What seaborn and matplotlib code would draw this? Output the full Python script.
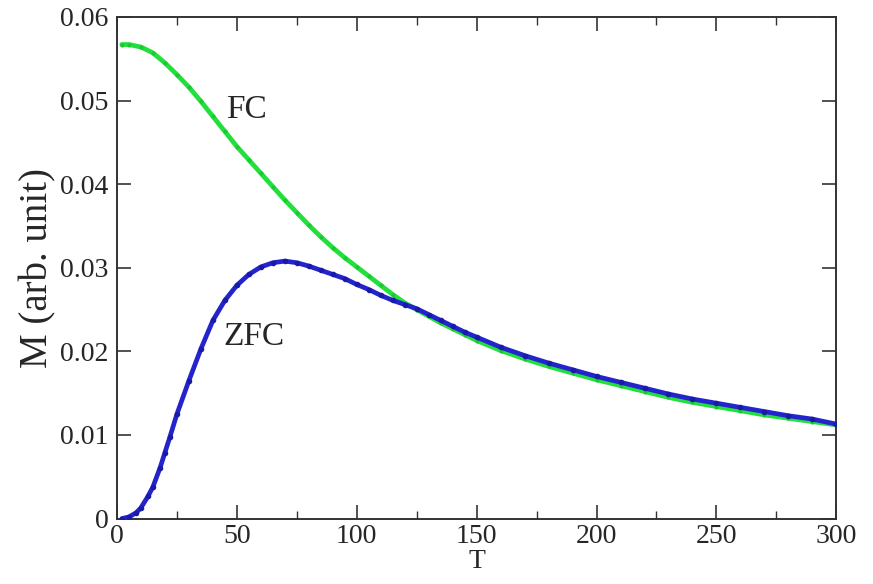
import matplotlib
matplotlib.use("Agg")
import matplotlib.pyplot as plt
from matplotlib.ticker import MultipleLocator
import seaborn as sns
import pandas as pd

# FC curve (field cooled)
fc_T = [2, 5, 10, 15, 20, 25, 30, 35, 40, 45, 50, 55, 60, 65, 70, 75, 80, 85, 90, 95,
        100, 105, 110, 115, 120, 125, 130, 135, 140, 145, 150, 160, 170, 180, 190, 200,
        210, 220, 230, 240, 250, 260, 270, 280, 290, 300]
fc_M = [0.0567, 0.0567, 0.0564, 0.0557, 0.0545, 0.0531, 0.0516, 0.0499, 0.0481, 0.0463,
        0.0445, 0.0429, 0.0413, 0.0397, 0.0381, 0.0366, 0.0351, 0.0337, 0.0324, 0.0312,
        0.0301, 0.0290, 0.0279, 0.0268, 0.0258, 0.0250, 0.0242, 0.0234, 0.0227, 0.0220,
        0.0213, 0.0201, 0.0191, 0.0182, 0.0174, 0.0166, 0.0159, 0.0152, 0.0145, 0.0139,
        0.0134, 0.0129, 0.0124, 0.0120, 0.0116, 0.0112]

# ZFC curve (zero field cooled)
zfc_T = [2, 5, 8, 10, 13, 15, 18, 20, 22, 25, 30, 35, 40, 45, 50, 55, 60, 65, 70, 75, 80,
         85, 90, 95, 100, 105, 110, 115, 120, 125, 130, 135, 140, 145, 150, 160, 170, 180,
         190, 200, 210, 220, 230, 240, 250, 260, 270, 280, 290, 300]
zfc_M = [0.0000, 0.0002, 0.0007, 0.0013, 0.0027, 0.0038, 0.0061, 0.0079, 0.0097, 0.0125,
         0.0165, 0.0203, 0.0237, 0.0261, 0.0279, 0.0292, 0.0301, 0.0306, 0.0308, 0.0306,
         0.0302, 0.0297, 0.0292, 0.0287, 0.0280, 0.0274, 0.0267, 0.0261, 0.0256, 0.0251,
         0.0244, 0.0237, 0.0230, 0.0223, 0.0217, 0.0205, 0.0195, 0.0186, 0.0178, 0.0170,
         0.0163, 0.0156, 0.0149, 0.0143, 0.0138, 0.0133, 0.0128, 0.0123, 0.0119, 0.0113]

x_ticks = [0, 50, 100, 150, 200, 250, 300]
y_ticks = [0, 0.01, 0.02, 0.03, 0.04, 0.05, 0.06]
y_tick_labels = ["0", "0.01", "0.02", "0.03", "0.04", "0.05", "0.06"]

sns.set_style("ticks")
plt.rcParams["font.family"] = ["Liberation Serif", "DejaVu Serif"]

fc_df = pd.DataFrame({"T": fc_T, "M": fc_M})
zfc_df = pd.DataFrame({"T": zfc_T, "M": zfc_M})

fig = plt.figure(figsize=(8.73, 5.84), dpi=100)
ax = fig.add_axes([0.134, 0.112, 0.824, 0.859])

sns.lineplot(data=fc_df, x="T", y="M", ax=ax, color="#22e03c", linewidth=3.4,
             marker="o", markersize=3, markeredgewidth=0, markerfacecolor="#1cc832",
             zorder=2)
sns.lineplot(data=zfc_df, x="T", y="M", ax=ax, color="#2424cc", linewidth=3.4,
             marker="o", markersize=4, markeredgewidth=0, markerfacecolor="#1a1aa8",
             zorder=3)

ax.set_xlim(0, 300)
ax.set_ylim(0, 0.06)
ax.set_xticks(x_ticks)
ax.set_yticks(y_ticks)
ax.set_yticklabels(y_tick_labels)
ax.xaxis.set_minor_locator(MultipleLocator(25))

ax.tick_params(axis="both", which="major", direction="in", length=10, width=1.2,
               top=True, right=True, labelsize=20, color="#333333", pad=6)
ax.tick_params(axis="x", which="major", pad=4)
ax.tick_params(axis="x", which="minor", direction="in", length=6, width=1.0,
               top=True, color="#333333")
for s in ax.spines.values():
    s.set_linewidth(1.4)
    s.set_color("#333333")

ax.set_xlabel("T", fontsize=20, labelpad=0)
ax.set_ylabel("M (arb. unit)", fontsize=28, labelpad=3)

ax.text(54, 0.0489, "FC", fontsize=24, ha="center", va="center")
ax.text(57, 0.0218, "ZFC", fontsize=24, ha="center", va="center")

fig.savefig("out.png", dpi=100)
